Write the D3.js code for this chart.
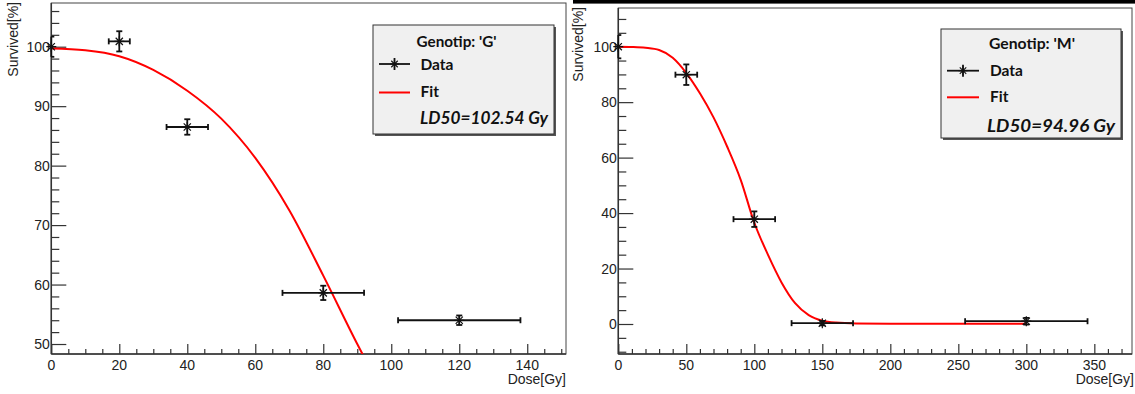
<!DOCTYPE html>
<html>
<head>
<meta charset="utf-8">
<script src="https://cdn.jsdelivr.net/npm/d3@7"></script>
<style>
  html, body { margin: 0; padding: 0; background: #fff; }
  svg { display: block; }
</style>
</head>
<body>
<svg id="chart" width="1135" height="394"></svg>
<script>
// ---- Survival data per genotype ----
const genotypes = ["G", "M"];
const ld50 = [102.54, 94.96];

// Genotype G measurements
const doseG = [0, 20, 40, 80, 120];
const doseErrG = [0, 3.1, 6.1, 12, 18];
const survG = [100, 100.9, 86.5, 58.6, 54.0];
const survErrG = [1.7, 1.7, 1.3, 1.2, 0.8];

// Genotype G fitted curve samples
const fitDoseG = [0, 10, 20, 30, 40, 50, 60, 70, 80, 90, 93];
const fitSurvG = [99.7, 99.4, 98.4, 96.1, 92.6, 87.9, 81.3, 72.5, 61.5, 50.0, 46.7];

// Genotype M measurements
const doseM = [0, 50, 100, 150, 300];
const doseErrM = [0, 8, 15.3, 22.6, 45];
const survM = [100, 89.9, 37.8, 0.3, 1.0];
const survErrM = [4.2, 3.7, 2.8, 0.8, 1.2];

// Genotype M fitted curve samples
const fitDoseM = [0, 10, 20, 30, 40, 50, 60, 70, 80, 90, 100, 110, 120, 130, 140, 150, 160, 175, 200, 250, 300];
const fitSurvM = [100, 99.9, 99.6, 98.8, 96.0, 90.5, 83.2, 74.5, 64.0, 52.0, 36.5, 25.0, 15.0, 7.5, 3.2, 1.2, 0.5, 0.2, 0.1, 0.1, 0.1];

// Axis tick settings
const xMajorG = [0, 20, 40, 60, 80, 100, 120, 140];
const yMajorG = [50, 60, 70, 80, 90, 100];
const xMajorM = [0, 50, 100, 150, 200, 250, 300, 350];
const yMajorM = [0, 20, 40, 60, 80, 100];

const xLabel = "Dose[Gy]";
const yLabel = "Survived[%]";

const svg = d3.select("#chart");
const tickFont = "'Liberation Sans', Arial, Helvetica, sans-serif";
const legendFont = "Lato, 'Open Sans', sans-serif";
const axisColor = "#333";

// separator bar on top of the second pad
svg.append("rect").attr("x", 573).attr("y", 0).attr("width", 562).attr("height", 3.6).attr("fill", "#000");

const panels = [
  {
    id: 0,
    frame: { x0: 51.3, x1: 566, y0: 3, y1: 354 },
    xDomain: [0, 151.4], yDomain: [48.32, 107.35],
    xMajor: xMajorG, xMinorStep: 5,
    yMajor: yMajorG, yMinorStep: 2,
    dose: doseG, doseErr: doseErrG, surv: survG, survErr: survErrG,
    fitDose: fitDoseG, fitSurv: fitSurvG,
    legend: { x: 373, y: 25, w: 181, h: 109, titleX: 416.5, titleW: 80, titleY: 47, dataY: 64, fitY: 92.5, lineX0: 379, lineX1: 410, textX: 420.5, ldX: 420, ldY: 123.5, ldW: 128 },
    yTitleX: 18, yTitleTop: 2, xTitleRight: 566
  },
  {
    id: 1,
    frame: { x0: 618.3, x1: 1132, y0: 8, y1: 354 },
    xDomain: [0, 377.7], yDomain: [-10.82, 113.95],
    xMajor: xMajorM, xMinorStep: 10,
    yMajor: yMajorM, yMinorStep: 5,
    dose: doseM, doseErr: doseErrM, surv: survM, survErr: survErrM,
    fitDose: fitDoseM, fitSurv: fitSurvM,
    legend: { x: 941, y: 29, w: 180, h: 109, titleX: 989, titleW: 86, titleY: 48.5, dataY: 70.7, fitY: 97.3, lineX0: 947, lineX1: 979, textX: 990, ldX: 987, ldY: 131.5, ldW: 128 },
    yTitleX: 583, yTitleTop: 7, xTitleRight: 1134
  }
];

function ticksBetween(domain, step) {
  const out = [];
  const start = Math.ceil(domain[0] / step) * step;
  for (let v = start; v <= domain[1] + 1e-9; v += step) out.push(+v.toFixed(6));
  return out;
}

function starPath(r) {
  const a = r * 0.72;
  return `M${-r},0L${r},0M0,${-r}L0,${r}M${-a},${-a}L${a},${a}M${-a},${a}L${a},${-a}`;
}

panels.forEach(p => {
  const f = p.frame;
  const x = d3.scaleLinear().domain(p.xDomain).range([f.x0, f.x1]);
  const y = d3.scaleLinear().domain(p.yDomain).range([f.y1, f.y0]);
  const g = svg.append("g");

  // frame
  g.append("rect").attr("x", f.x0).attr("y", f.y0)
    .attr("width", f.x1 - f.x0).attr("height", f.y1 - f.y0)
    .attr("fill", "none").attr("stroke", "#444").attr("stroke-width", 1);

  // x axis (ticks pointing into the pad)
  const xAxis = d3.axisTop(x).tickValues(p.xMajor).tickSize(10).tickFormat("");
  const xMinor = d3.axisTop(x).tickValues(ticksBetween(p.xDomain, p.xMinorStep).filter(v => !p.xMajor.includes(v))).tickSize(5).tickFormat("");
  [xAxis, xMinor].forEach(ax => {
    const a = g.append("g").attr("transform", `translate(0,${f.y1})`).call(ax);
    a.select(".domain").remove();
    a.selectAll("line").attr("stroke", axisColor).attr("stroke-width", 1.2);
  });
  g.append("line").attr("x1", f.x0).attr("x2", f.x1).attr("y1", f.y1).attr("y2", f.y1)
    .attr("stroke", axisColor).attr("stroke-width", 1.5);
  g.selectAll(".xlab").data(p.xMajor).enter().append("text")
    .attr("x", d => x(d)).attr("y", f.y1 + 15.5)
    .attr("text-anchor", "middle").attr("font-family", tickFont).attr("font-size", 14)
    .attr("fill", "#222").text(d => d);

  // y axis
  const yAxis = d3.axisRight(y).tickValues(p.yMajor).tickSize(15).tickFormat("");
  const yMinor = d3.axisRight(y).tickValues(ticksBetween(p.yDomain, p.yMinorStep).filter(v => !p.yMajor.includes(v))).tickSize(8).tickFormat("");
  [yAxis, yMinor].forEach(ax => {
    const a = g.append("g").attr("transform", `translate(${f.x0},0)`).call(ax);
    a.select(".domain").remove();
    a.selectAll("line").attr("stroke", axisColor).attr("stroke-width", 1.2);
  });
  g.append("line").attr("x1", f.x0).attr("x2", f.x0).attr("y1", f.y0).attr("y2", f.y1)
    .attr("stroke", axisColor).attr("stroke-width", 1.5);
  g.selectAll(".ylab").data(p.yMajor).enter().append("text")
    .attr("x", f.x0 - 1.5).attr("y", d => y(d)).attr("dy", "0.36em")
    .attr("text-anchor", "end").attr("font-family", tickFont).attr("font-size", 14)
    .attr("fill", "#222").text(d => d);

  // axis titles
  g.append("text").attr("x", p.xTitleRight).attr("y", 384)
    .attr("text-anchor", "end").attr("font-family", tickFont).attr("font-size", 14)
    .attr("fill", "#222").text(xLabel);
  g.append("text")
    .attr("transform", `translate(${p.yTitleX},${p.yTitleTop}) rotate(-90)`)
    .attr("text-anchor", "end").attr("font-family", tickFont).attr("font-size", 14)
    .attr("fill", "#222").text(yLabel);

  // fitted curve
  const clipId = "clip" + p.id;
  svg.append("defs").append("clipPath").attr("id", clipId)
    .append("rect").attr("x", f.x0).attr("y", f.y0).attr("width", f.x1 - f.x0).attr("height", f.y1 - f.y0);
  const fitPts = p.fitDose.map((d, i) => [d, p.fitSurv[i]]);
  g.append("path").datum(fitPts)
    .attr("clip-path", `url(#${clipId})`)
    .attr("d", d3.line().x(d => x(d[0])).y(d => y(d[1])).curve(d3.curveMonotoneX))
    .attr("fill", "none").attr("stroke", "#f00").attr("stroke-width", 2);

  // measurements with error bars
  const pts = p.dose.map((d, i) => ({ d, de: p.doseErr[i], s: p.surv[i], se: p.survErr[i] }));
  const cap = 3;
  const eb = g.append("g").attr("stroke", "#111").attr("stroke-width", 1.8).attr("fill", "none");
  pts.forEach(pt => {
    const cx = x(pt.d), cy = y(pt.s);
    if (pt.de > 0) {
      const xl = x(pt.d - pt.de), xr = x(pt.d + pt.de);
      eb.append("line").attr("x1", xl).attr("x2", xr).attr("y1", cy).attr("y2", cy);
      eb.append("line").attr("x1", xl).attr("x2", xl).attr("y1", cy - cap).attr("y2", cy + cap);
      eb.append("line").attr("x1", xr).attr("x2", xr).attr("y1", cy - cap).attr("y2", cy + cap);
    }
    const yt = y(pt.s + pt.se), yb = y(pt.s - pt.se);
    eb.append("line").attr("x1", cx).attr("x2", cx).attr("y1", yt).attr("y2", yb);
    const c0 = pt.de > 0 ? cx - cap : cx, c1 = cx + cap;
    eb.append("line").attr("x1", c0).attr("x2", c1).attr("y1", yt).attr("y2", yt);
    eb.append("line").attr("x1", c0).attr("x2", c1).attr("y1", yb).attr("y2", yb);
    eb.append("path").attr("transform", `translate(${cx},${cy})`).attr("d", starPath(5))
      .attr("stroke-width", 1.2);
  });

  // legend
  const L = p.legend;
  const lg = g.append("g");
  lg.append("rect").attr("x", L.x + 2).attr("y", L.y + 2).attr("width", L.w).attr("height", L.h).attr("fill", "#555");
  lg.append("rect").attr("x", L.x).attr("y", L.y).attr("width", L.w).attr("height", L.h)
    .attr("fill", "#f0f0f0").attr("stroke", "#333").attr("stroke-width", 1);
  lg.append("text").attr("x", L.titleX).attr("y", L.titleY)
    .attr("textLength", L.titleW).attr("lengthAdjust", "spacingAndGlyphs")
    .attr("font-family", legendFont).attr("font-weight", "bold").attr("font-size", 15.5)
    .attr("fill", "#111").text(`Genotip: '${genotypes[p.id]}'`);
  const mx = (L.lineX0 + L.lineX1) / 2;
  lg.append("line").attr("x1", L.lineX0).attr("x2", L.lineX1).attr("y1", L.dataY).attr("y2", L.dataY)
    .attr("stroke", "#111").attr("stroke-width", 1.8);
  lg.append("line").attr("x1", mx).attr("x2", mx).attr("y1", L.dataY - 6).attr("y2", L.dataY + 6)
    .attr("stroke", "#111").attr("stroke-width", 1.8);
  lg.append("path").attr("transform", `translate(${mx},${L.dataY})`).attr("d", starPath(4.5))
    .attr("stroke", "#111").attr("stroke-width", 1.1);
  lg.append("text").attr("x", L.textX).attr("y", L.dataY + 5.5)
    .attr("font-family", legendFont).attr("font-weight", "bold").attr("font-size", 15.5)
    .attr("fill", "#111").text("Data");
  lg.append("line").attr("x1", L.lineX0).attr("x2", L.lineX1).attr("y1", L.fitY).attr("y2", L.fitY)
    .attr("stroke", "#f00").attr("stroke-width", 2);
  lg.append("text").attr("x", L.textX).attr("y", L.fitY + 4.5)
    .attr("font-family", legendFont).attr("font-weight", "bold").attr("font-size", 15.5)
    .attr("fill", "#111").text("Fit");
  lg.append("text").attr("x", L.ldX).attr("y", L.ldY)
    .attr("textLength", L.ldW).attr("lengthAdjust", "spacingAndGlyphs")
    .attr("font-family", legendFont).attr("font-weight", "bold").attr("font-style", "italic").attr("font-size", 16.5)
    .attr("fill", "#111").text(`LD50=${ld50[p.id].toFixed(2)} Gy`);
});
</script>
</body>
</html>
